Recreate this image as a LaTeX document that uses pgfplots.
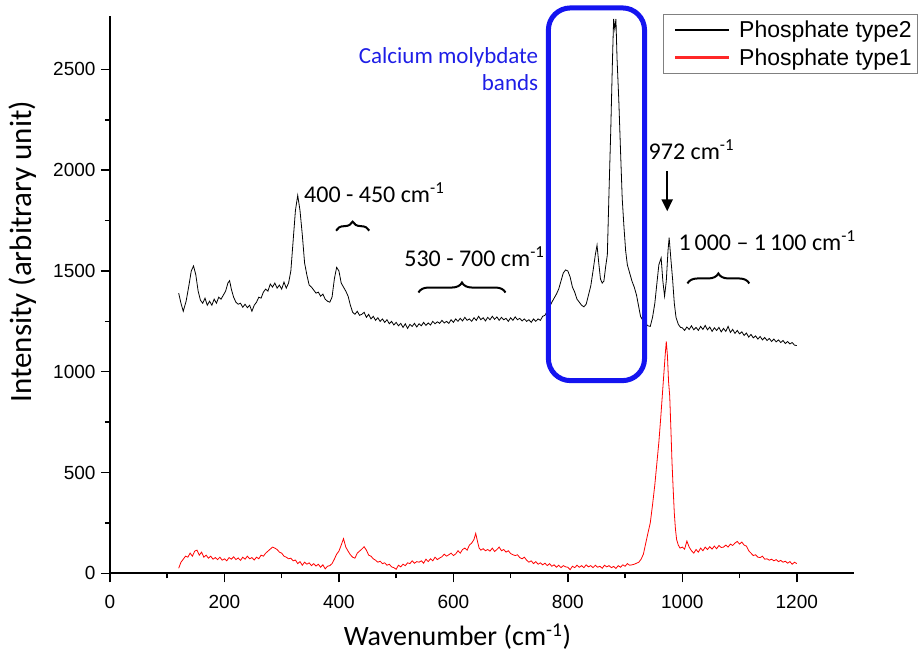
\documentclass[border=0pt]{standalone}
\usepackage{fontspec}
\setmainfont{Carlito}
\newfontfamily\arialf{Liberation Sans}
\usepackage{pgfplots}
\pgfplotsset{compat=1.18}
\usetikzlibrary{decorations.pathreplacing,arrows.meta}
\definecolor{boxblue}{RGB}{20,20,240}
\definecolor{txtblue}{RGB}{30,30,230}
\definecolor{legred}{RGB}{255,40,40}
\begin{document}
\begin{tikzpicture}
\useasboundingbox (-110pt,-83pt) rectangle (808pt,573.3pt);
\begin{axis}[
  scale only axis, width=744pt, height=557.3pt,
  xmin=0, xmax=1300, ymin=0, ymax=2765,
  axis lines*=left,
  axis line style={line width=1.8pt},
  tick align=outside,
  major tick length=9pt, minor tick length=5pt,
  every tick/.style={line width=1.5pt, black},
  xtick={0,200,...,1200}, ytick={0,500,...,2500},
  minor x tick num=1, minor y tick num=1,
  /pgf/number format/assume math mode=true,
  /pgf/number format/1000 sep={},
  ticklabel style={font=\arialf\fontsize{19}{22}\selectfont},
  xticklabel style={yshift=-9pt},
  yticklabel style={xshift=-2pt},
  xlabel={Wavenumber (cm\textsuperscript{-1})},
  ylabel={Intensity (arbitrary unit)},
  xlabel style={font=\fontsize{28}{32}\selectfont, at={(axis description cs:0.467,0)}, anchor=base, yshift=-72pt},
  ylabel style={font=\fontsize{31}{35}\selectfont, at={(axis description cs:-0.118,0.577)}, anchor=center},
  clip=false,
  legend style={draw=none, name=leg, at={(rel axis cs:1.0847,1.0036)}, anchor=north east,
    font=\arialf\fontsize{23}{26}\selectfont, inner xsep=3pt, inner ysep=5pt, row sep=5pt,
    legend cell align=left},
]
\addplot[black, line width=0.8pt,
  legend image code/.code={\path (-9pt,0pt); \fill[black] (0pt,-0.5pt) rectangle (53pt,0.5pt); \path (61pt,0pt);}] table {
120 1390
124 1340
128 1300
133 1350
138 1430
142 1500
146 1525
150 1480
154 1400
158 1355
162 1340
166 1365
170 1330
174 1350
178 1330
182 1360
186 1340
190 1370
194 1360
198 1380
202 1400
206 1440
209 1452
212 1410
216 1370
220 1345
224 1335
228 1340
232 1320
236 1335
240 1318
244 1330
248 1300
252 1330
256 1345
260 1370
264 1365
268 1395
272 1410
276 1400
280 1435
284 1420
288 1440
292 1415
296 1430
300 1410
304 1445
308 1415
312 1440
316 1500
320 1650
324 1800
328 1875
332 1800
336 1680
340 1540
344 1480
348 1430
352 1420
356 1405
360 1390
364 1395
368 1375
372 1385
376 1360
380 1350
384 1345
388 1370
392 1460
396 1518
400 1500
404 1440
408 1420
412 1400
416 1375
420 1330
424 1295
428 1285
432 1300
436 1280
440 1285
444 1295
448 1270
452 1285
456 1262
460 1275
464 1255
468 1268
472 1250
476 1262
480 1245
484 1258
488 1238
492 1250
496 1232
500 1245
504 1228
508 1240
512 1220
516 1238
520 1215
524 1235
528 1225
532 1240
536 1222
540 1238
544 1228
548 1245
552 1230
556 1242
560 1232
564 1250
568 1238
572 1248
576 1240
580 1255
584 1242
588 1250
592 1240
596 1258
600 1245
604 1262
608 1250
612 1265
616 1252
620 1270
624 1255
628 1262
632 1250
636 1268
640 1255
644 1275
648 1258
652 1268
656 1252
660 1270
664 1258
668 1275
672 1260
676 1272
680 1255
684 1270
688 1258
692 1265
696 1250
700 1268
704 1255
708 1272
712 1258
716 1265
720 1252
724 1262
728 1250
732 1258
736 1245
740 1262
744 1250
748 1262
752 1255
756 1275
760 1280
764 1300
768 1320
772 1345
776 1365
780 1385
784 1410
788 1450
792 1490
796 1505
800 1500
804 1470
808 1420
812 1395
816 1360
820 1345
824 1330
828 1322
832 1335
836 1380
840 1425
844 1500
848 1580
851 1628
854 1540
857 1460
860 1440
863 1450
866 1520
869 1580
872 1900
875 2200
878 2550
880 2750
882 2700
884 2750
886 2550
889 2350
892 2100
895 1860
898 1720
901 1600
904 1530
908 1490
912 1450
916 1420
920 1380
924 1320
927 1275
931 1255
935 1240
940 1228
944 1225
948 1270
952 1340
956 1450
959 1530
963 1565
966 1450
969 1375
972 1450
975 1600
977 1665
980 1560
983 1460
986 1340
989 1270
993 1235
997 1220
1000 1218
1004 1205
1008 1222
1012 1210
1016 1228
1020 1208
1024 1220
1028 1205
1032 1225
1036 1210
1040 1230
1044 1208
1048 1222
1052 1200
1056 1218
1060 1205
1064 1220
1068 1198
1072 1215
1076 1200
1080 1225
1084 1195
1088 1210
1092 1190
1096 1205
1100 1188
1104 1198
1108 1180
1112 1192
1116 1172
1120 1185
1124 1168
1128 1178
1132 1162
1136 1175
1140 1158
1144 1170
1148 1155
1152 1165
1156 1150
1160 1162
1164 1148
1168 1158
1172 1145
1176 1155
1180 1140
1184 1150
1188 1138
1192 1145
1196 1132
1200 1130
};
\addlegendentry{Phosphate type2}
\addplot[red, line width=0.8pt,
  legend image code/.code={\path (-9pt,0pt); \fill[legred] (0pt,-0.6pt) rectangle (53pt,0.6pt); \path (61pt,0pt);}] table {
120 25
124 55
128 70
132 85
136 80
140 100
144 85
148 110
152 115
156 90
160 105
164 80
168 90
172 75
176 85
180 70
184 78
188 68
192 80
196 65
200 72
204 62
208 78
212 70
216 82
220 68
224 76
228 64
232 80
236 70
240 85
244 72
248 78
252 66
256 80
260 72
264 90
268 85
272 100
276 110
280 120
284 130
288 125
292 118
296 105
300 100
304 85
308 80
312 72
316 75
320 62
324 66
328 48
332 58
336 40
340 55
344 45
348 52
352 38
356 48
360 36
364 45
368 30
372 42
376 22
380 35
384 38
388 48
392 70
396 95
400 110
404 140
408 172
412 130
416 110
420 92
424 80
428 75
432 100
436 110
440 120
444 132
448 115
452 90
456 85
460 72
464 65
468 55
472 60
476 48
480 52
484 40
488 45
492 32
496 28
500 20
504 40
508 32
512 45
516 38
520 52
524 48
528 62
532 50
536 58
540 55
544 62
548 50
552 70
556 58
560 72
564 62
568 80
572 68
576 76
580 82
584 95
588 85
592 92
596 100
600 88
604 96
608 112
612 100
616 118
620 125
624 115
628 140
632 150
636 168
639 198
642 160
645 125
648 115
652 122
656 112
660 118
664 110
668 125
672 108
676 118
680 130
684 112
688 118
692 105
696 112
700 98
704 92
708 88
712 92
716 78
720 72
724 80
728 65
732 55
736 62
740 48
744 58
748 45
752 52
756 42
760 50
764 38
768 48
772 35
776 42
780 30
784 40
788 28
792 38
796 32
800 30
804 18
808 35
812 28
816 40
820 30
824 38
828 28
832 42
836 32
840 38
844 28
848 40
852 30
856 35
860 25
864 40
868 32
872 38
876 28
880 34
884 24
888 38
892 30
896 42
900 35
904 48
908 40
912 42
916 45
920 50
924 55
928 70
932 95
936 148
940 200
944 250
948 340
952 440
956 560
959 650
962 760
965 880
968 1000
970 1080
972 1150
974 1080
976 950
978 880
980 720
982 550
984 420
986 300
988 220
990 168
993 140
996 125
1000 130
1004 120
1008 160
1012 130
1016 112
1020 100
1024 118
1028 105
1032 125
1036 112
1040 130
1044 118
1048 132
1052 120
1056 135
1060 122
1064 138
1068 128
1072 130
1076 140
1080 130
1084 145
1088 138
1092 150
1096 158
1100 145
1104 155
1108 140
1112 135
1116 112
1120 100
1124 88
1128 92
1132 80
1136 78
1140 85
1144 70
1148 72
1152 65
1156 70
1160 62
1164 68
1168 58
1172 64
1176 55
1180 60
1184 50
1188 58
1192 45
1196 55
1200 48
};
\addlegendentry{Phosphate type1}
% annotations
\draw[boxblue, line width=5pt, rounded corners=22pt] (axis cs:766,956) rectangle (axis cs:934,2805);
\node[txtblue, align=right, anchor=east, font=\fontsize{23}{27}\selectfont, inner sep=0pt] at (axis cs:748.5,2501) {Calcium molybdate\\bands};
\node[anchor=west, font=\fontsize{24}{28}\selectfont, inner sep=0pt] at (axis cs:339,1890) {400 - 450 cm\textsuperscript{-1}};
\draw[decorate, decoration={brace, amplitude=9pt}, line width=2pt] (axis cs:395,1700) -- (axis cs:453,1700);
\node[anchor=west, font=\fontsize{24}{28}\selectfont, inner sep=0pt] at (axis cs:514,1572) {530 - 700 cm\textsuperscript{-1}};
\draw[decorate, decoration={brace, amplitude=10pt}, line width=2pt] (axis cs:539,1393) -- (axis cs:691,1393);
\node[anchor=west, font=\fontsize{24}{28}\selectfont, inner sep=0pt] at (axis cs:941,2104) {972 cm\textsuperscript{-1}};
\draw[line width=2.5pt, -{Triangle[length=12pt,width=11pt]}] (axis cs:973.6,1995) -- (axis cs:973.6,1796);
\node[anchor=west, font=\fontsize{24}{28}\selectfont, inner sep=0pt] at (axis cs:993,1652) {1\,000 -- 1\,100 cm\textsuperscript{-1}};
\draw[decorate, decoration={brace, amplitude=10pt}, line width=2pt] (axis cs:1009,1438) -- (axis cs:1117,1438);
\end{axis}
\draw[gray, line width=0.8pt] (leg.south west) rectangle (leg.north east);
\end{tikzpicture}
\end{document}
